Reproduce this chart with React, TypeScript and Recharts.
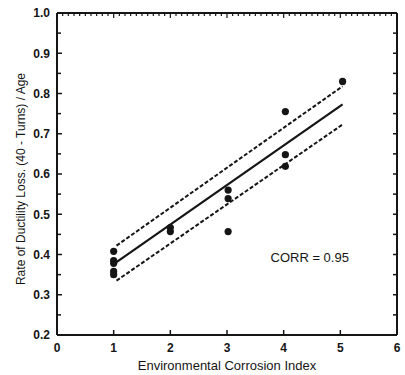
import React from "react";
import {
  ComposedChart,
  XAxis,
  YAxis,
  Scatter,
  ReferenceLine,
  ReferenceDot,
  Label,
} from "recharts";

// measured points (Environmental Corrosion Index vs rate of ductility loss)
const pointX = [1, 1, 1, 1, 1, 2, 2, 3.02, 3.02, 3.02, 4.03, 4.03, 4.03, 5.04];
const pointY = [0.408, 0.385, 0.378, 0.358, 0.35, 0.467, 0.457, 0.56, 0.539, 0.457, 0.755, 0.648, 0.619, 0.83];

// regression line and its band, end points
const fitX = [1.05, 5.04];
const fitY = [0.381, 0.773];
const upperY = [0.422, 0.818];
const lowerY = [0.335, 0.723];

const xTicks = [0, 1, 2, 3, 4, 5, 6];
const yTicks = [0.2, 0.3, 0.4, 0.5, 0.6, 0.7, 0.8, 0.9, 1.0];
const yMinorTicks = [0.25, 0.35, 0.45, 0.55, 0.65, 0.75, 0.85, 0.95];
const topTicks = Array.from({ length: 61 }, (_, i) => +(i / 10).toFixed(1));

const corrText = "CORR = 0.95";

const INK = "#151515";
const FONT = "'Liberation Sans', Arial, sans-serif";

const points = pointX.map((x, i) => ({ x, y: pointY[i] }));
const allYTicks = [...yTicks, ...yMinorTicks].sort((a, b) => a - b);
const isMajor = (v: number) => Math.abs(v * 10 - Math.round(v * 10)) < 1e-6;

const LEFT_MARGIN = 7;
const BOTTOM_MARGIN = 8;

function LeftTick(props: any) {
  const { x, y, payload } = props;
  const v = payload.value as number;
  const ax = x + LEFT_MARGIN;
  const major = isMajor(v);
  return (
    <g>
      {v > 0.2 && v < 1.0 && (
        <line x1={ax} x2={ax + (major ? 5 : 4)} y1={y} y2={y} stroke={INK} strokeWidth={1.5} />
      )}
      {major && (
        <text x={x} y={y} dy="0.36em" textAnchor="end" fontSize={12} fontWeight="bold" fontFamily={FONT} fill={INK}>
          {v.toFixed(1)}
        </text>
      )}
    </g>
  );
}

function RightTick(props: any) {
  const { x, y, payload } = props;
  const v = payload.value as number;
  if (v <= 0.2 || v >= 1.0) return <g />;
  return <line x1={x} x2={x - 4} y1={y} y2={y} stroke={INK} strokeWidth={1.5} />;
}

function BottomTick(props: any) {
  const { x, y, payload } = props;
  const v = payload.value as number;
  const ay = y - BOTTOM_MARGIN;
  return (
    <g>
      {v > 0 && v < 6 && <line x1={x} x2={x} y1={ay} y2={ay - 5} stroke={INK} strokeWidth={1.5} />}
      <text x={x} y={y} dy="0.71em" textAnchor="middle" fontSize={12} fontWeight="bold" fontFamily={FONT} fill={INK}>
        {v}
      </text>
    </g>
  );
}

function TopTick(props: any) {
  const { x, y, payload } = props;
  const v = payload.value as number;
  if (v <= 0 || v >= 6) return <g />;
  const long = Math.abs(v - Math.round(v)) < 1e-6;
  return <line x1={x} x2={x} y1={y} y2={y + (long ? 5 : 3)} stroke={INK} strokeWidth={1.2} />;
}

function Dot(props: any) {
  const { cx, cy } = props;
  return <circle cx={cx} cy={cy} r={3.6} fill={INK} />;
}

const NoShape = () => <g />;

export default function App() {
  const axisLine = { stroke: INK, strokeWidth: 2 };
  return (
    <div style={{ width: 405, height: 375, background: "#fff" }}>
      <style>{`body{margin:0}`}</style>
      <ComposedChart width={405} height={375} margin={{ top: 12, right: 7, bottom: 0, left: 0 }}>
        <XAxis
          xAxisId="b"
          type="number"
          dataKey="x"
          domain={[0, 6]}
          ticks={xTicks}
          interval={0}
          height={40}
          tickSize={0}
          tickMargin={BOTTOM_MARGIN}
          tickLine={false}
          axisLine={axisLine}
          tick={<BottomTick />}
        >
          <Label
            value="Environmental Corrosion Index"
            position="insideBottom"
            offset={5}
            fontSize={13}
            fontFamily={FONT}
            fill={INK}
          />
        </XAxis>
        <XAxis
          xAxisId="t"
          orientation="top"
          type="number"
          dataKey="x"
          domain={[0, 6]}
          ticks={topTicks}
          interval={0}
          height={1}
          tickSize={0}
          tickMargin={0}
          tickLine={false}
          axisLine={axisLine}
          tick={<TopTick />}
        />
        <YAxis
          yAxisId="l"
          type="number"
          dataKey="y"
          domain={[0.2, 1.0]}
          ticks={allYTicks}
          interval={0}
          width={57}
          tickSize={0}
          tickMargin={LEFT_MARGIN}
          tickLine={false}
          axisLine={axisLine}
          tick={<LeftTick />}
        >
          <Label
            content={(p: any) => {
              const vb = p.viewBox;
              const cx = 21;
              const cy = vb.y + vb.height / 2 + 5;
              return (
                <text
                  x={cx}
                  y={cy}
                  transform={`rotate(-90 ${cx} ${cy})`}
                  textAnchor="middle"
                  dominantBaseline="central"
                  fontSize={12}
                  fontFamily={FONT}
                  fill={INK}
                >
                  Rate of Ductility Loss. (40 - Turns) / Age
                </text>
              );
            }}
          />
        </YAxis>
        <YAxis
          yAxisId="r"
          orientation="right"
          type="number"
          dataKey="y"
          domain={[0.2, 1.0]}
          ticks={allYTicks}
          interval={0}
          width={1}
          tickSize={0}
          tickMargin={0}
          tickLine={false}
          axisLine={axisLine}
          tick={<RightTick />}
        />
        {/* invisible copy so the frame axes (top/right) have a series */}
        <Scatter
          xAxisId="t"
          yAxisId="r"
          data={points}
          dataKey="y"
          shape={<NoShape />}
          isAnimationActive={false}
        />
        <ReferenceLine
          xAxisId="b"
          yAxisId="l"
          segment={[{ x: fitX[0], y: upperY[0] }, { x: fitX[1], y: upperY[1] }]}
          stroke={INK}
          strokeWidth={2}
          strokeDasharray="4 2"
        />
        <ReferenceLine
          xAxisId="b"
          yAxisId="l"
          segment={[{ x: fitX[0], y: fitY[0] }, { x: fitX[1], y: fitY[1] }]}
          stroke={INK}
          strokeWidth={2.2}
        />
        <ReferenceLine
          xAxisId="b"
          yAxisId="l"
          segment={[{ x: fitX[0], y: lowerY[0] }, { x: fitX[1], y: lowerY[1] }]}
          stroke={INK}
          strokeWidth={2}
          strokeDasharray="4 2"
        />
        <Scatter
          xAxisId="b"
          yAxisId="l"
          data={points}
          dataKey="y"
          shape={<Dot />}
          isAnimationActive={false}
        />
        <ReferenceDot
          xAxisId="b"
          yAxisId="l"
          x={4.46}
          y={0.392}
          r={0}
          stroke="none"
          fill="none"
          label={{ value: corrText, position: "center", fontSize: 13, fontFamily: FONT, fill: INK }}
        />
      </ComposedChart>
    </div>
  );
}
